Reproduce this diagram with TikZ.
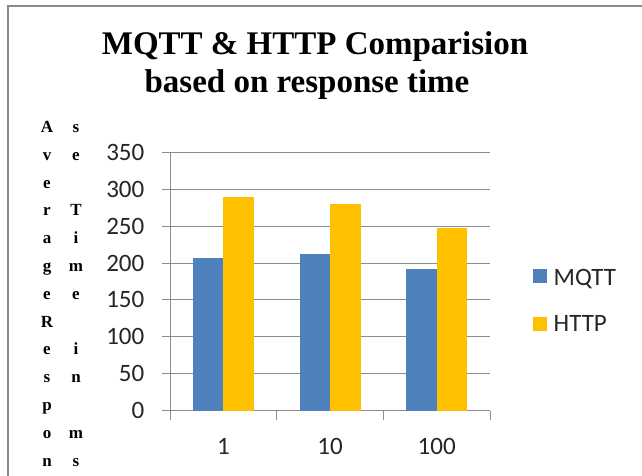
\documentclass[tikz,border=0pt]{standalone}
\usepackage{fontspec}
\setmainfont{Liberation Serif}
\newfontfamily\chartfont{Carlito}
\definecolor{mqttblue}{HTML}{4F81BD}
\definecolor{httpgold}{HTML}{FFC000}
\definecolor{gridgray}{HTML}{8C8C8C}
\definecolor{framegray}{HTML}{8A8A8A}
\begin{document}
\begin{tikzpicture}[x=1pt,y=-1pt,
  gridline/.style={draw=gridgray,line width=1pt},
  barmqtt/.style={fill=mqttblue,draw=none},
  barhttp/.style={fill=httpgold,draw=none},
  ticklabel/.style={font=\chartfont\fontsize{25}{25}\selectfont,inner sep=0pt,text=black!85},
  titletext/.style={font=\bfseries\fontsize{33}{33}\selectfont,inner sep=0pt,anchor=base},
  axisletter/.style={font=\bfseries\fontsize{17}{17}\selectfont,inner sep=0pt,anchor=base}]
  \useasboundingbox (0,0) rectangle (642,476);
  \fill[white] (0,0) rectangle (642,476);
  % chart frame (only the top and left edges fall inside the picture)
  \draw[framegray,line width=2pt] (8.3,480) -- (8.3,6) -- (650,6);

  % title
  \node[titletext] (title1) at (315,55) {MQTT \& HTTP Comparision};
  \node[titletext] (title2) at (307,92.7) {based on response time};

  % vertical axis title, set as two columns of letters
  \foreach \ch [count=\k from 0] in {A,v,e,r,a,g,e,R,e,s,p,o,n}
    \node[axisletter] (ya\k) at (47,{132.5+27.8*\k}) {\ch};
  \foreach \ch/\k in {s/0,e/1,T/3,i/4,m/5,e/6,i/8,n/9,m/11,s/12}
    \node[axisletter] (yb\k) at (76,{132.5+27.8*\k}) {\ch};

  % value gridlines, ticks and labels
  \foreach \v in {0,50,...,350}{
    \draw[gridline] (162,{410.7-0.7383*\v}) -- (490,{410.7-0.7383*\v});
    \node[ticklabel,anchor=east] (yl\v) at (144.5,{410.7-0.7383*\v}) {\v};
  }
  % axes
  \draw[gridline] (170,152.3) -- (170,420);
  \foreach \x in {276.7,383.3,490}
    \draw[gridline] (\x,410.7) -- (\x,420);

  % bars: category, MQTT value, HTTP value
  \foreach \c/\m/\h [count=\i from 0] in {1/207/289,10/212/280,100/192/247}{
    \pgfmathsetmacro{\cx}{170+106.67*(\i+0.5)}
    \fill[barmqtt] ({\cx-30.5},410.7) rectangle (\cx,{410.7-0.7383*\m});
    \fill[barhttp] (\cx,410.7) rectangle ({\cx+30.5},{410.7-0.7383*\h});
    \node[ticklabel,anchor=base] (xl\i) at (\cx,454) {\c};
  }

  % legend
  \fill[mqttblue] (532.7,269.3) rectangle (546.7,283.3);
  \node[ticklabel,anchor=base west] (legm) at (553.5,285) {MQTT};
  \fill[httpgold] (532.7,317) rectangle (546.7,331);
  \node[ticklabel,anchor=base west] (legh) at (553.5,331.7) {HTTP};
\end{tikzpicture}
\end{document}
